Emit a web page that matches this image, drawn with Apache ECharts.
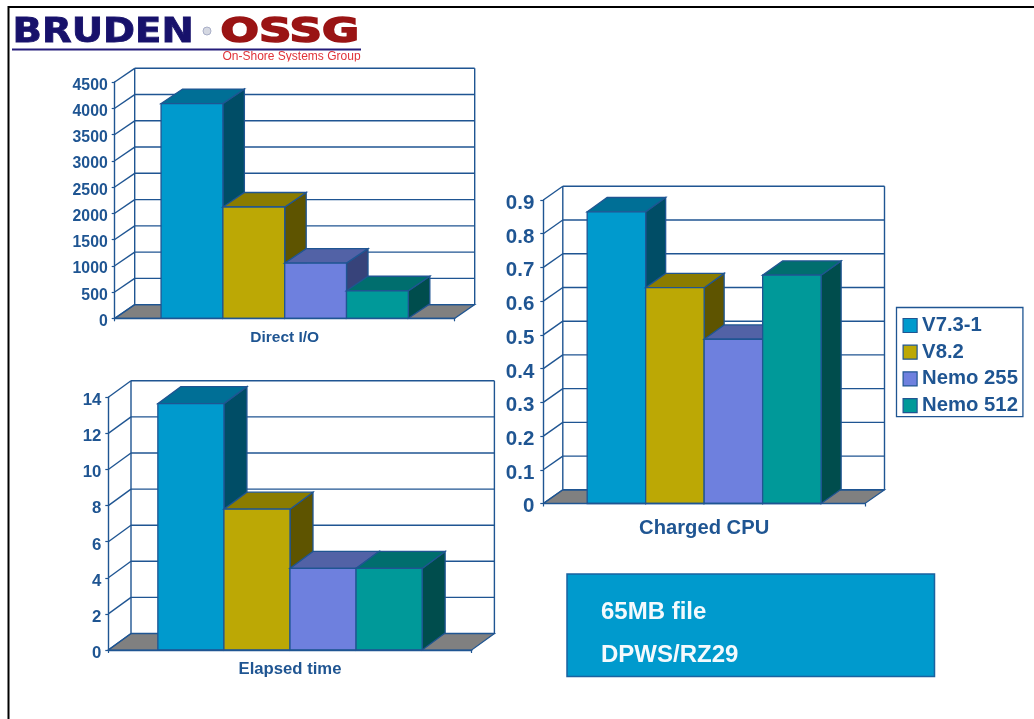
<!DOCTYPE html>
<html><head><meta charset="utf-8">
<style>html,body{margin:0;padding:0;background:#fff;overflow:hidden}#c{width:1034px;height:719px}</style>
<script src="https://cdn.jsdelivr.net/npm/echarts@6/dist/echarts.min.js"></script>
</head><body><div id="c"></div>
<script>
const versions = ['V7.3-1', 'V8.2', 'Nemo 255', 'Nemo 512'];
const directIO = [4090, 2120, 1050, 525];
const chargedCPU = [0.865, 0.64, 0.487, 0.677];
const elapsedTime = [13.65, 7.8, 4.52, 4.52];
const directIOTicks = [0, 500, 1000, 1500, 2000, 2500, 3000, 3500, 4000, 4500];
const chargedCPUTicks = [0, 0.1, 0.2, 0.3, 0.4, 0.5, 0.6, 0.7, 0.8, 0.9];
const elapsedTimeTicks = [0, 2, 4, 6, 8, 10, 12, 14];
const frontColors = ['#009ACD', '#BCA805', '#6E80DE', '#009999'];
const topColors = ['#006F96', '#8B7C00', '#5262A6', '#006E6E'];
const sideColors = ['#004D66', '#5E5400', '#37437A', '#004D4D'];
const ink = '#1F5592';
const font = 'Liberation Sans';

const panels = [
  {title: 'Direct I/O', values: directIO, ticks: directIOTicks, max: 4500, interval: 500, left: 114.7, top: 82, width: 340, height: 236.3, dx: 20, dy: -13.7, bdx: 21.5, bdy: -14.5, tickSize: 15.8, titleSize: 15.5, titleMargin: 11, tickMargin: 7},
  {title: 'Charged CPU', values: chargedCPU, ticks: chargedCPUTicks, max: 0.9, interval: 0.1, left: 543.3, top: 200, width: 321.7, height: 303.5, dx: 19.5, dy: -13.7, bdx: 20, bdy: -14.3, tickSize: 20.5, titleSize: 20.2, titleMargin: 15, tickMargin: 9},
  {title: 'Elapsed time', values: elapsedTime, ticks: elapsedTimeTicks, max: 14, interval: 2, left: 108.3, top: 397.3, width: 363.4, height: 252.7, dx: 22.7, dy: -16.5, bdx: 23, bdy: -17, tickSize: 16.8, titleSize: 16.7, titleMargin: 11, tickMargin: 7}
];

const grids = [], xAxes = [], yAxes = [], series = [];
const barShare = 1 / 5.5, gapShare = 0.75 / 5.5;

panels.forEach((p, idx) => {
  grids.push({left: p.left, top: p.top, width: p.width, height: p.height, containLabel: false});
  xAxes.push({
    type: 'category', gridIndex: idx, data: [p.title], z: 5,
    axisLine: {lineStyle: {color: ink, width: 1.4}},
    axisTick: {show: true, length: 3, lineStyle: {color: ink, width: 1.2}},
    axisLabel: {color: ink, fontFamily: font, fontWeight: 'bold', fontSize: p.titleSize, margin: p.titleMargin},
    splitLine: {show: false}
  });
  yAxes.push({
    type: 'value', gridIndex: idx, min: 0, max: p.max, interval: p.interval, z: 5,
    axisLine: {show: true, lineStyle: {color: ink, width: 1.4}},
    axisTick: {show: true, length: 3, lineStyle: {color: ink, width: 1.2}},
    axisLabel: {color: ink, fontFamily: font, fontWeight: 'bold', fontSize: p.tickSize, margin: p.tickMargin, padding: [0, 0, 0, 0], lineHeight: 6.5, verticalAlign: 'top', formatter: v => String(v)},
    splitLine: {show: false}
  });
  // floor and the two upright edges of the back wall
  series.push({
    type: 'custom', name: 'floor' + idx, xAxisIndex: idx, yAxisIndex: idx, z: 1, silent: true,
    encode: {x: 0, y: 1}, data: [[0, 0]],
    renderItem(params, api) {
      const c = api.coord([0, 0]), b = api.size([1, 0])[0];
      const xl = c[0] - b / 2, xr = c[0] + b / 2, y0 = c[1];
      const yt = api.coord([0, p.max])[1];
      const line = (x1, y1, x2, y2) => ({type: 'line', shape: {x1, y1, x2, y2}, style: {stroke: ink, lineWidth: 1.4, fill: null}});
      return {type: 'group', children: [
        {type: 'polygon', shape: {points: [[xl, y0], [xr, y0], [xr + p.dx, y0 + p.dy], [xl + p.dx, y0 + p.dy]]}, style: {fill: '#808080', stroke: ink, lineWidth: 1.2}},
        line(xl + p.dx, y0 + p.dy, xl + p.dx, yt + p.dy),
        line(xr + p.dx, y0 + p.dy, xr + p.dx, yt + p.dy)
      ]};
    }
  });
  // back-wall gridlines with their diagonals
  series.push({
    type: 'custom', name: 'wall' + idx, xAxisIndex: idx, yAxisIndex: idx, z: 1, silent: true,
    encode: {x: 0, y: 1}, data: p.ticks.map(t => [0, t]),
    renderItem(params, api) {
      const c = api.coord([0, api.value(1)]), b = api.size([1, 0])[0];
      const xl = c[0] - b / 2, xr = c[0] + b / 2, y = c[1];
      const st = {stroke: ink, lineWidth: 1.4, fill: null};
      return {type: 'group', children: [
        {type: 'line', shape: {x1: xl, y1: y, x2: xl + p.dx, y2: y + p.dy}, style: st},
        {type: 'line', shape: {x1: xl + p.dx, y1: y + p.dy, x2: xr + p.dx, y2: y + p.dy}, style: st}
      ]};
    }
  });
  // 3D bars, left to right so each one overpaints the previous
  versions.forEach((name, i) => {
    series.push({
      type: 'custom', name, xAxisIndex: idx, yAxisIndex: idx, z: 3 + i / 10, silent: true,
      itemStyle: {color: frontColors[i]},
      encode: {x: 0, y: 1}, data: [[0, p.values[i]]],
      renderItem(params, api) {
        const top = api.coord([0, api.value(1)]), base = api.coord([0, 0]), b = api.size([1, 0])[0];
        const x1 = base[0] - b / 2 + b * (gapShare + barShare * i), x2 = x1 + b * barShare;
        const yt = top[1], yb = base[1], dx = p.bdx, dy = p.bdy;
        const edge = {stroke: ink, lineWidth: 1.3};
        return {type: 'group', children: [
          {type: 'polygon', shape: {points: [[x2, yb], [x2 + dx, yb + dy], [x2 + dx, yt + dy], [x2, yt]]}, style: {fill: sideColors[i], ...edge}},
          {type: 'polygon', shape: {points: [[x1, yt], [x2, yt], [x2 + dx, yt + dy], [x1 + dx, yt + dy]]}, style: {fill: topColors[i], ...edge}},
          {type: 'rect', shape: {x: x1, y: yt, width: x2 - x1, height: yb - yt}, style: {fill: frontColors[i], ...edge}}
        ]};
      }
    });
  });
});

const txt = (text, x, y, size, fill, extra) => Object.assign({
  type: 'text', x, y, silent: true,
  style: Object.assign({text, fill, font: 'bold ' + size + 'px "' + font + '"', align: 'left', textAlign: 'left', verticalAlign: 'middle', textVerticalAlign: 'middle'}, (extra || {}).style)
}, extra && extra.el);

const option = {
  animation: false,
  backgroundColor: '#fff',
  grid: grids, xAxis: xAxes, yAxis: yAxes, series,
  legend: {
    orient: 'vertical', left: 896.5, top: 307.5, padding: [8, 5, 1, 6],
    itemWidth: 14, itemHeight: 14, itemGap: 6.7, icon: 'rect', selectedMode: false,
    borderColor: ink, borderWidth: 1.3, backgroundColor: '#fff',
    textStyle: {color: ink, fontFamily: font, fontWeight: 'bold', fontSize: 20.3},
    data: versions.map((name, i) => ({name, itemStyle: {color: frontColors[i], borderColor: ink, borderWidth: 1.2}}))
  },
  graphic: [
    {type: 'line', silent: true, shape: {x1: 8.5, y1: 7, x2: 1034, y2: 7}, style: {stroke: '#000', lineWidth: 2}},
    {type: 'line', silent: true, shape: {x1: 8.5, y1: 6, x2: 8.5, y2: 719}, style: {stroke: '#000', lineWidth: 2}},
    txt('BRUDEN', 12.5, 33, 33, '#17116B', {el: {scaleX: 1.17}, style: {font: 'bold 33px "DejaVu Sans"', stroke: '#17116B', lineWidth: 0.8}}),
    {type: 'circle', silent: true, shape: {cx: 207, cy: 31, r: 4}, style: {fill: '#D5D8E2', stroke: '#A9AFC8', lineWidth: 1}},
    txt('OSSG', 220.5, 33, 33, '#9A1414', {el: {scaleX: 1.37}, style: {font: 'bold 33px "DejaVu Sans"', stroke: '#9A1414', lineWidth: 1.6}}),
    {type: 'line', silent: true, shape: {x1: 12, y1: 49.5, x2: 361, y2: 49.5}, style: {stroke: '#241C7A', lineWidth: 2}},
    {type: 'text', silent: true, x: 222.5, y: 57, style: {text: 'On-Shore Systems Group', fill: '#E0343A', font: '12px "Liberation Sans"', align: 'left', textAlign: 'left', verticalAlign: 'middle', textVerticalAlign: 'middle'}},
    {type: 'rect', silent: true, shape: {x: 215, y: 61.5, width: 160, height: 6}, style: {fill: '#fff'}},
    {type: 'rect', silent: true, shape: {x: 567, y: 574, width: 367.5, height: 102.5}, style: {fill: '#009ACD', stroke: '#1A62A0', lineWidth: 1.5}},
    txt('65MB file', 601, 612.5, 24, '#F4FAFD'),
    txt('DPWS/RZ29', 601, 655.5, 24, '#F4FAFD')
  ]
};
const chart = echarts.init(document.getElementById('c'), null, {renderer: 'canvas'});
chart.setOption(option);
</script></body></html>
